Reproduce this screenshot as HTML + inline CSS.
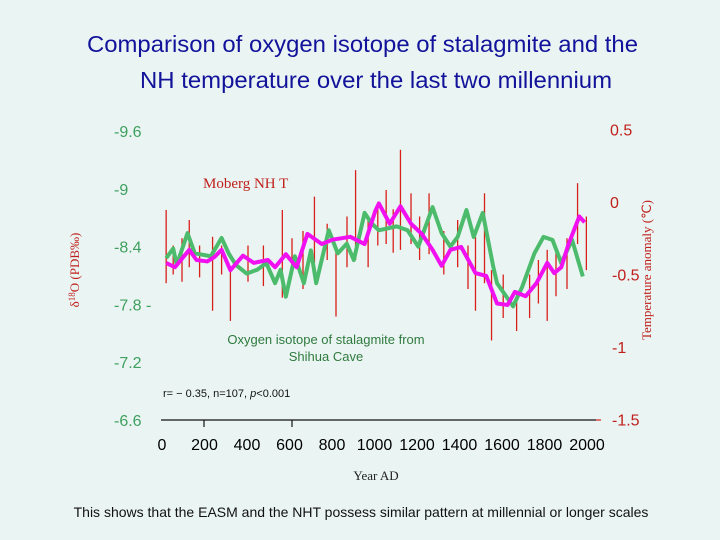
<!DOCTYPE html>
<html><head><meta charset="utf-8">
<style>
html,body{margin:0;padding:0;background:#eaf5f3;}
svg{display:block;}
</style></head>
<body>
<svg id="chart" width="720" height="540" viewBox="0 0 720 540" xmlns="http://www.w3.org/2000/svg">
<rect x="0" y="0" width="720" height="540" fill="#eaf5f3"/>
<text x="87" y="52" textLength="551" lengthAdjust="spacingAndGlyphs" font-family="Liberation Sans, sans-serif" font-size="23" fill="#12129a">Comparison of oxygen isotope of stalagmite and the</text>
<text x="140" y="88" textLength="472" lengthAdjust="spacingAndGlyphs" font-family="Liberation Sans, sans-serif" font-size="23" fill="#12129a">NH temperature over the last two millennium</text>
<g id="spikes"></g>
<g id="lines"></g>
<g id="axes"></g>
<text x="203" y="188" font-family="Liberation Serif, serif" font-size="15" fill="#c0201c">Moberg NH T</text>
<text x="326" y="344" text-anchor="middle" font-family="Liberation Sans, sans-serif" font-size="13" fill="#2f7a3e">Oxygen isotope of stalagmite from</text>
<text x="326" y="361" text-anchor="middle" font-family="Liberation Sans, sans-serif" font-size="13" fill="#2f7a3e">Shihua Cave</text>
<text x="163" y="397" font-family="Liberation Sans, sans-serif" font-size="11" fill="#111">r= − 0.35, n=107, <tspan font-style="italic">p</tspan>&lt;0.001</text>
<text transform="translate(79,270) rotate(-90)" text-anchor="middle" font-family="Liberation Serif, serif" font-size="13" fill="#c0201c">δ<tspan font-size="9" dy="-4">18</tspan><tspan dy="4">O (PDB‰)</tspan></text>
<text transform="translate(651,270) rotate(-90)" text-anchor="middle" font-family="Liberation Serif, serif" font-size="13" fill="#c0201c">Temperature anomaly  (℃)</text>
<text x="376" y="480" text-anchor="middle" font-family="Liberation Serif, serif" font-size="13" fill="#222">Year AD</text>
<text x="361" y="517" text-anchor="middle" font-family="Liberation Sans, sans-serif" font-size="14" fill="#111">This shows that the EASM and the NHT possess similar pattern at millennial or longer scales</text>
</svg>
<script>
const tYears=[28,68,133,166,215,247,280,320,377,426,491,523,572,621,670,735,784,865,930,979,995,1044,1093,1141,1190,1239,1280,1320,1369,1434,1483,1532,1580,1613,1662,1711,1760,1792,1824,1857,1906,1930];
const tVals=[-0.42,-0.45,-0.33,-0.40,-0.41,-0.38,-0.33,-0.47,-0.37,-0.42,-0.40,-0.45,-0.36,-0.45,-0.22,-0.29,-0.26,-0.24,-0.29,-0.06,-0.01,-0.15,-0.03,-0.15,-0.22,-0.33,-0.44,-0.33,-0.31,-0.49,-0.51,-0.70,-0.71,-0.62,-0.65,-0.56,-0.42,-0.49,-0.45,-0.29,-0.10,-0.14];
const oYears=[28,60,76,125,158,231,280,312,345,394,442,483,523,548,572,613,654,686,710,767,808,849,881,930,962,995,1076,1125,1174,1239,1280,1320,1353,1393,1426,1467,1515,1532,1605,1646,1702,1743,1784,1824,1873,1922];
const oVals=[-8.28,-8.38,-8.21,-8.54,-8.33,-8.30,-8.49,-8.33,-8.21,-8.12,-8.16,-8.23,-8.02,-8.16,-7.88,-8.30,-8.02,-8.36,-8.02,-8.57,-8.33,-8.43,-8.26,-8.75,-8.64,-8.57,-8.61,-8.57,-8.40,-8.81,-8.54,-8.40,-8.50,-8.78,-8.50,-8.75,-8.19,-8.02,-7.78,-7.98,-8.33,-8.50,-8.47,-8.23,-8.47,-8.09];
const spikeYears=[28,60,100,133,180,239,280,320,400,470,556,600,650,702,760,800,850,889,946,990,1028,1060,1093,1141,1180,1223,1290,1353,1400,1434,1475,1507,1560,1621,1680,1720,1760,1800,1850,1898,1938];
const spikeLow=[-0.56,-0.50,-0.55,-0.45,-0.52,-0.75,-0.50,-0.82,-0.55,-0.58,-0.66,-0.50,-0.60,-0.42,-0.40,-0.79,-0.45,-0.40,-0.45,-0.30,-0.29,-0.35,-0.33,-0.29,-0.40,-0.36,-0.50,-0.45,-0.60,-0.75,-0.56,-0.955,-0.80,-0.89,-0.80,-0.70,-0.82,-0.65,-0.60,-0.29,-0.47];
const spikeHigh=[-0.055,-0.30,-0.25,-0.124,-0.30,-0.24,-0.30,-0.47,-0.30,-0.30,-0.055,-0.25,-0.20,0.037,-0.15,-0.33,-0.10,0.22,-0.10,0.00,0.083,-0.05,0.36,0.06,-0.10,0.06,-0.20,-0.124,-0.30,-0.24,0.06,-0.47,-0.50,-0.61,-0.50,-0.40,-0.33,-0.35,-0.25,0.13,-0.10];
const leftTicks=[-9.6,-9,-8.4,-7.8,-7.2,-6.6];
const leftTickLabels=["-9.6","-9","-8.4","-7.8 -","-7.2","-6.6"];
const rightTicks=[0.5,0,-0.5,-1,-1.5];
const rightTickLabels=["0.5","0","-0.5","-1","-1.5"];
const xTickLabels=["0","200","400","600","800","1000","1200","1400","1600","1800","2000"];
const xTickMarks=[200,600];

const NS="http://www.w3.org/2000/svg";
function xS(y){return 160+y*0.22;}
function yL(v){return 131+(v+9.6)/0.6*57.8;}
function yR(t){return 202-t/0.5*72.5;}
function mk(tag,attrs,parent){const e=document.createElementNS(NS,tag);for(const k in attrs)e.setAttribute(k,attrs[k]);parent.appendChild(e);return e;}

const sp=document.getElementById('spikes');
for(let i=0;i<spikeYears.length;i++){
  const l=mk('line',{x1:xS(spikeYears[i]),x2:xS(spikeYears[i]),y1:yR(spikeLow[i]),y2:yR(spikeHigh[i]),stroke:'#d8201a','stroke-width':1.3},sp);
  
  
}
const ln=document.getElementById('lines');
const pg=mk('polyline',{points:oYears.map((y,i)=>xS(y)+','+yL(oVals[i])).join(' '),fill:'none',stroke:'#4cbb6c','stroke-width':4,'stroke-linejoin':'round'},ln);


const pm=mk('polyline',{points:tYears.map((y,i)=>xS(y)+','+yR(tVals[i])).join(' '),fill:'none',stroke:'#f010f0','stroke-width':4,'stroke-linejoin':'round'},ln);



const ax=document.getElementById('axes');
const base=mk('line',{x1:161,x2:596,y1:420,y2:420,stroke:'#111','stroke-width':1.2},ax);


mk('line',{x1:596,x2:601,y1:420,y2:420,stroke:'#d8201a','stroke-width':1.2},ax);
xTickMarks.forEach(v=>{const t=mk('line',{x1:xS(v),x2:xS(v),y1:420,y2:427,stroke:'#111','stroke-width':1.2},ax);
  
  });
xTickLabels.forEach((s,i)=>{const t=mk('text',{x:162+i*42.5,y:450,'text-anchor':'middle','font-family':'Liberation Sans, sans-serif','font-size':16,fill:'#000'},ax);t.textContent=s;
  
  });
leftTicks.forEach((v,i)=>{const t=mk('text',{x:114,y:yL(v)+6,'font-family':'Liberation Sans, sans-serif','font-size':16,fill:'#3f9f5f'},ax);t.textContent=leftTickLabels[i];
  
  });
rightTicks.forEach((v,i)=>{const t=mk('text',{x:v<0?612:610,y:yR(v)+6,'font-family':'Liberation Sans, sans-serif','font-size':16,fill:'#c0201c'},ax);t.textContent=rightTickLabels[i];
  
  });
</script>
</body></html>
